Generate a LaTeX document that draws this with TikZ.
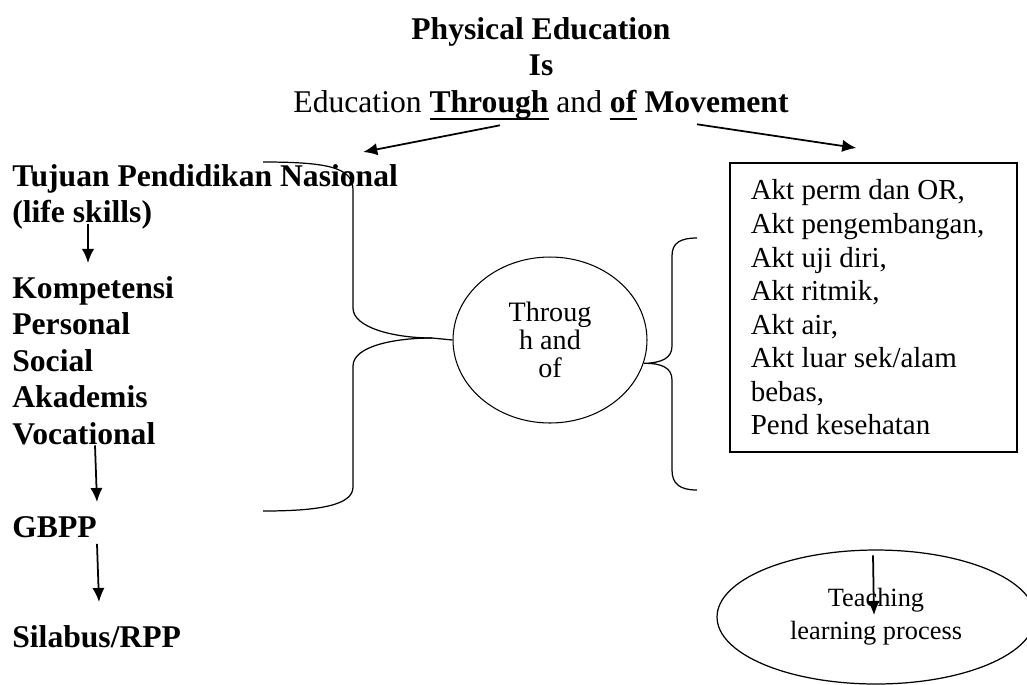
\documentclass[tikz,border=0pt]{standalone}
\usepackage{fontspec}
\setmainfont{Liberation Serif}
\usetikzlibrary{arrows.meta,shapes.geometric,calc}
\newcommand{\ulthick}[1]{\setbox0\hbox{#1}\rlap{\rule[-4.3pt]{\wd0}{1.1pt}}\box0\relax}
\begin{document}
\begin{tikzpicture}[x=0.02cm, y=-0.02cm, >={Latex[length=8pt,width=7pt]},
    big/.style={font=\fontsize{18}{20.8}\selectfont\bfseries, align=left, inner sep=0pt, anchor=north west},
    brace/.style={line width=0.7pt},
    arr/.style={->, line width=1pt}]
\useasboundingbox (0,0) rectangle (1027,684);

\node[font=\fontsize{18}{20.8}\selectfont, align=center, inner sep=0pt, anchor=north] (title) at (541,17)
    {\textbf{Physical Education}\\ \textbf{Is}\\ Education \ulthick{\textbf{Through}} and \ulthick{\textbf{of}} \textbf{Movement}};

% left column
\node[big] (tujuan) at (12,164) {Tujuan Pendidikan Nasional\\(life skills)};
\node[big] (komp) at (12,276) {Kompetensi\\Personal\\Social\\Akademis\\Vocational};
\node[big] (gbpp) at (12,516) {GBPP};
\node[big] (silabus) at (12,625) {Silabus/RPP};

\draw[arr] ($(tujuan.south west)+(76,-6)$) -- ($(komp.north west)+(76,-13)$);
\draw[arr] ($(komp.south west)+(83,0)$) -- ($(gbpp.north west)+(85,-14)$);
\draw[arr] ($(gbpp.south west)+(85,6)$) -- ($(silabus.north west)+(87,-23)$);

% middle and right
\node[ellipse, draw, line width=0.6pt, minimum width=3.88cm, minimum height=3.32cm, inner sep=0pt,
    align=center, font=\fontsize{16}{15.9}\selectfont] (thru) at (550,340) {Throug\\h and\\of};

\node[draw, line width=0.9pt, anchor=north west, align=flush left, text width=4.9cm,
    inner xsep=0.42cm, inner ysep=0.34cm, font=\fontsize{16.5}{19.1}\selectfont] (acts) at (729,162)
    {Akt perm dan OR,\\Akt pengembangan,\\Akt uji diri,\\Akt ritmik,\\Akt air,\\Akt luar sek/alam\\bebas,\\Pend kesehatan};

\node[ellipse, draw, line width=0.7pt, minimum width=6.36cm, minimum height=2.68cm, inner sep=0pt,
    align=center, font=\fontsize{15}{18.8}\selectfont] (teach) at (876,617) {Teaching\\learning process};

\draw[arr] ($(title.south)+(-41,5)$) -- ($(tujuan.north east)+(-35,-12)$);
\draw[arr] ($(title.south)+(156,4)$) -- ($(acts.north)+(-17,-14)$);
\draw[arr] ($(teach.north)+(-3,6)$) -- ($(teach.center)+(-2,-2)$);

% braces
\coordinate (ltip) at (432,338);
\draw[brace] (263,162) .. controls (330,162) and (353,168) .. (353,190) -- (353,308)
    .. controls (353,328) and (395,338) .. (ltip) -- (thru.west);
\draw[brace] (ltip) .. controls (395,338) and (353,346) .. (353,366) -- (353,487)
    .. controls (353,505) and (320,511) .. (263,511);
\draw[brace] (697,238) .. controls (680,238) and (672,243) .. (672,256) -- (672,346)
    .. controls (672,358) and (662,363) .. (thru.-14)
    .. controls (662,363) and (672,368) .. (672,380) -- (672,470)
    .. controls (672,484) and (680,490) .. (697,490);
\end{tikzpicture}
\end{document}
